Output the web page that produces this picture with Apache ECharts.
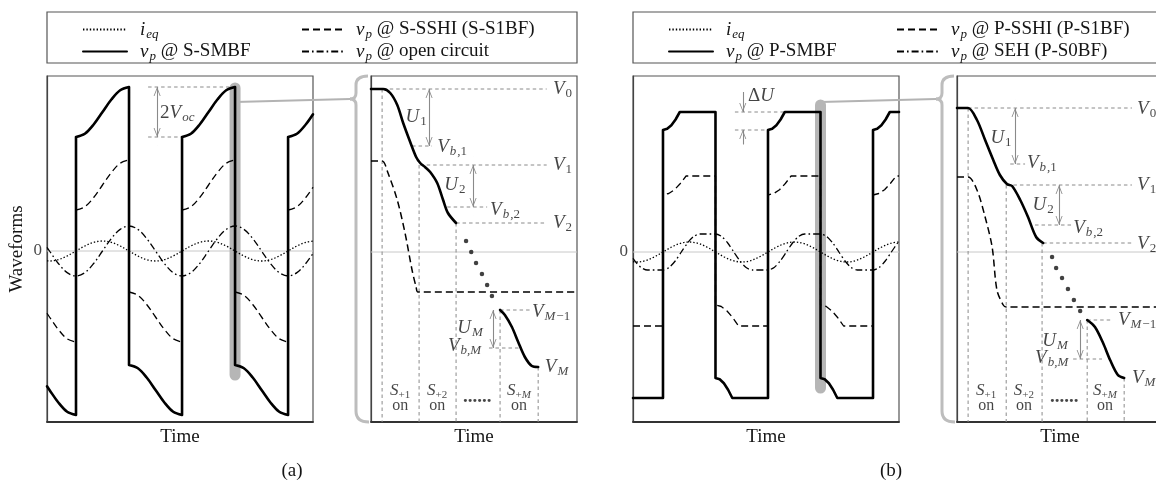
<!DOCTYPE html>
<html><head><meta charset="utf-8">
<script src="https://cdn.jsdelivr.net/npm/echarts@6/dist/echarts.min.js"></script>
<style>html,body{margin:0;padding:0;background:#fff}#c{width:1156px;height:482px}</style>
</head><body><div id="c"></div>
<script>
// ---------------- DATA ----------------
// Panel (a) main plot: time in half-periods of i_eq, voltage in units of V_oc
const axisMainA = [-0.547, 4.47, -6.84, 7.0];
const ieqA = [[-0.547,-0.396],[-0.5,-0.4],[-0.333,-0.346],[-0.167,-0.2],[0,0],[0.167,0.2],[0.333,0.346],[0.5,0.4],[0.667,0.346],[0.833,0.2],[1,0],[1.167,-0.2],[1.333,-0.346],[1.5,-0.4],[1.667,-0.346],[1.833,-0.2],[2,0],[2.167,0.2],[2.333,0.346],[2.5,0.4],[2.667,0.346],[2.833,0.2],[3,0],[3.167,-0.2],[3.333,-0.346],[3.5,-0.4],[3.667,-0.346],[3.833,-0.2],[4,0],[4.167,0.2],[4.333,0.346],[4.47,0.396]];
const ocA = [[-0.547,0.147],[-0.5,0],[-0.333,-0.5],[-0.167,-0.866],[0,-1],[0.167,-0.866],[0.333,-0.5],[0.5,0],[0.667,0.5],[0.833,0.866],[1,1],[1.167,0.866],[1.333,0.5],[1.5,0],[1.667,-0.5],[1.833,-0.866],[2,-1],[2.167,-0.866],[2.333,-0.5],[2.5,0],[2.667,0.5],[2.833,0.866],[3,1],[3.167,0.866],[3.333,0.5],[3.5,0],[3.667,-0.5],[3.833,-0.866],[4,-1],[4.167,-0.866],[4.333,-0.5],[4.47,-0.094]];
const sshiA = [
  [[-0.547,-2.49],[-0.5,-2.64],[-0.333,-3.14],[-0.167,-3.51],[0,-3.64]],
  [[0,-3.64],[0,1.64]],
  [[0,1.64],[0.167,1.77],[0.333,2.14],[0.5,2.64],[0.667,3.14],[0.833,3.51],[1,3.64]],
  [[1,3.64],[1,-1.64]],
  [[1,-1.64],[1.167,-1.77],[1.333,-2.14],[1.5,-2.64],[1.667,-3.14],[1.833,-3.51],[2,-3.64]],
  [[2,-3.64],[2,1.64]],
  [[2,1.64],[2.167,1.77],[2.333,2.14],[2.5,2.64],[2.667,3.14],[2.833,3.51],[3,3.64]],
  [[3,3.64],[3,-1.64]],
  [[3,-1.64],[3.167,-1.77],[3.333,-2.14],[3.5,-2.64],[3.667,-3.14],[3.833,-3.51],[4,-3.64]],
  [[4,-3.64],[4,1.64]],
  [[4,1.64],[4.167,1.77],[4.333,2.14],[4.47,2.55]]
];
const smbfA = [
  [[-0.547,-5.41],[-0.5,-5.56],[-0.333,-6.06],[-0.167,-6.43],[0,-6.56]],
  [[0,-6.56],[0,4.56]],
  [[0,4.56],[0.167,4.69],[0.333,5.06],[0.5,5.56],[0.667,6.06],[0.833,6.43],[1,6.56]],
  [[1,6.56],[1,-4.56]],
  [[1,-4.56],[1.167,-4.69],[1.333,-5.06],[1.5,-5.56],[1.667,-6.06],[1.833,-6.43],[2,-6.56]],
  [[2,-6.56],[2,4.56]],
  [[2,4.56],[2.167,4.69],[2.333,5.06],[2.5,5.56],[2.667,6.06],[2.833,6.43],[3,6.56]],
  [[3,6.56],[3,-4.56]],
  [[3,-4.56],[3.167,-4.69],[3.333,-5.06],[3.5,-5.56],[3.667,-6.06],[3.833,-6.43],[4,-6.56]],
  [[4,-6.56],[4,4.56]],
  [[4,4.56],[4.167,4.69],[4.333,5.06],[4.47,5.47]]
];
const barA = [[3,6.52],[3,-4.96]];
const vocGuidesA = [[[1.36,6.56],[2.96,6.56]],[[1.36,4.56],[2.0,4.56]]];
const vocArrowsA = [[1.53,6.56,4.56,'both']];
const labelsMainA = [[-0.547,0,'{r0|0}','right'],[1.585,5.52,'{r|2}{i|V}{s|oc}','left']];

// Panel (a) zoomed view (switching steps)
const axisZoom = [-0.3, 5.27, -17, 17.6];
const zoomSolidA = [
  [[-0.3,16.3],[0.03,16.3],[0.22,15.9],[0.41,14.7],[0.57,12.9],[0.76,11.0],[0.92,9.5],[1.03,8.9],[1.16,8.5],[1.3,8.0],[1.49,6.9],[1.65,5.2],[1.78,3.9],[2.0,2.9]],
  [[3.19,-5.8],[3.32,-6.3],[3.51,-7.5],[3.68,-9.0],[3.86,-10.5],[4.05,-11.4],[4.22,-11.5]]
];
const zoomDashA = [[-0.3,9.1],[0,9.1],[0.16,7.9],[0.41,5.2],[0.62,1.9],[0.81,-1.8],[0.92,-3.5],[0.97,-4.0],[5.27,-4.0]];
const zoomDotsA = [[2.27,1.1],[2.41,0],[2.54,-1.1],[2.7,-2.2],[2.84,-3.3],[2.97,-4.4]];
const zoomHGuidesA = [[[0.03,16.3],[4.45,16.3]],[[1.03,8.7],[4.45,8.7]],[[2.0,2.9],[4.45,2.9]],[[0.81,10.6],[1.35,10.6]],[[1.76,4.5],[2.84,4.5]],[[3.19,-5.8],[4.0,-5.8]],[[2.89,-9.6],[3.73,-9.6]]];
const zoomSwitchA = [0, 1.0, 2.0, 3.19, 4.22];
const zoomSwitchTopA = [16.3, 8.7, 2.9, -5.8, -11.5];
const zoomArrowsA = [[1.27,16.3,10.6,'both'],[2.46,8.7,4.5,'both'],[3.0,-5.8,-9.6,'both']];
const labelsZoomA = [
  [4.62,16.3,'{i|V}{sr|0}','left'],[4.62,8.7,'{i|V}{sr|1}','left'],[4.62,2.9,'{i|V}{sr|2}','left'],
  [1.49,10.5,'{i|V}{s|b}{sr|,1}','left'],[2.92,4.2,'{i|V}{s|b}{sr|,2}','left'],
  [0.92,13.5,'{i|U}{sr|1}','center'],[1.97,6.7,'{i|U}{sr|2}','center'],[2.38,-7.6,'{i|U}{s|M}','center'],
  [4.05,-6.0,'{i|V}{s|M}{sr|−1}','left'],[1.78,-9.4,'{i|V}{s|b,M}','left'],[4.4,-11.5,'{i|V}{s|M}','left'],
  [0.49,-13.9,'{si|S}{ss|+1}','center'],[0.49,-15.4,'{on|on}','center'],
  [1.49,-13.9,'{si|S}{ss|+2}','center'],[1.49,-15.4,'{on|on}','center'],
  [3.7,-13.9,'{si|S}{ss|+}{ssi|M}','center'],[3.7,-15.4,'{on|on}','center'],
  [2.57,-14.5,'{dots|......}','center']
];

// Panel (b) main plot
const axisMainB = [-0.571, 4.495, -6.8, 7.04];
const ieqB = [[-0.571,-0.39],[-0.5,-0.4],[-0.333,-0.346],[-0.167,-0.2],[0,0],[0.167,0.2],[0.333,0.346],[0.5,0.4],[0.667,0.346],[0.833,0.2],[1,0],[1.167,-0.2],[1.333,-0.346],[1.5,-0.4],[1.667,-0.346],[1.833,-0.2],[2,0],[2.167,0.2],[2.333,0.346],[2.5,0.4],[2.667,0.346],[2.833,0.2],[3,0],[3.167,-0.2],[3.333,-0.346],[3.5,-0.4],[3.667,-0.346],[3.833,-0.2],[4,0],[4.167,0.2],[4.333,0.346],[4.495,0.4]];
const sehB = [[-0.571,-0.25],[-0.5,-0.45],[-0.417,-0.62],[-0.3,-0.72],[0,-0.72],[0.117,-0.62],[0.233,-0.36],[0.35,0],[0.467,0.36],[0.583,0.62],[0.7,0.72],[1,0.72],[1.117,0.62],[1.233,0.36],[1.35,0],[1.467,-0.36],[1.583,-0.62],[1.7,-0.72],[2,-0.72],[2.117,-0.62],[2.233,-0.36],[2.35,0],[2.467,0.36],[2.583,0.62],[2.7,0.72],[3,0.72],[3.117,0.62],[3.233,0.36],[3.35,0],[3.467,-0.36],[3.583,-0.62],[3.7,-0.72],[4,-0.72],[4.117,-0.62],[4.233,-0.36],[4.35,0],[4.467,0.36],[4.495,0.43]];
const sshiB = [[-0.571,-2.96],[0,-2.96],[0,2.28],[0.11,2.34],[0.22,2.49],[0.33,2.74],[0.44,3.04],[1,3.04],[1,-2.12],[1.11,-2.18],[1.22,-2.36],[1.33,-2.63],[1.44,-2.96],[2,-2.96],[2,2.28],[2.11,2.34],[2.22,2.49],[2.33,2.74],[2.44,3.04],[3,3.04],[3,-2.12],[3.11,-2.18],[3.22,-2.36],[3.33,-2.63],[3.44,-2.96],[4,-2.96],[4,2.28],[4.11,2.34],[4.22,2.49],[4.33,2.74],[4.44,3.04],[4.495,3.04]];
const smbfB = [[-0.571,-5.84],[0,-5.84],[0,4.88],[0.08,4.93],[0.16,5.07],[0.24,5.30],[0.32,5.60],[1,5.60],[1,-5.04],[1.08,-5.09],[1.16,-5.25],[1.24,-5.51],[1.32,-5.84],[2,-5.84],[2,4.88],[2.08,4.93],[2.16,5.07],[2.24,5.30],[2.32,5.60],[3,5.60],[3,-5.04],[3.08,-5.09],[3.16,-5.25],[3.24,-5.51],[3.32,-5.84],[4,-5.84],[4,4.88],[4.08,4.93],[4.16,5.07],[4.24,5.30],[4.32,5.60],[4.495,5.60]];
const barB = [[3,5.88],[3,-5.44]];
const dUGuidesB = [[[1.37,5.6],[2.3,5.6]],[[1.37,4.88],[2.0,4.88]]];
const dUArrowsB = [[1.52,6.4,5.6,'one'],[1.52,4.3,4.88,'one']];
const labelsMainB = [[-0.571,0,'{r0|0}','right'],[1.62,6.24,'{r|Δ}{i|U}','left']];

// Panel (b) zoomed view
const zoomSolidB = [
  [[-0.3,14.4],[0,14.4],[0.24,13.2],[0.46,11.2],[0.68,9.2],[0.86,7.7],[1.05,6.8],[1.19,6.6],[1.41,5.2],[1.62,3.5],[1.84,1.5],[2.03,0.9]],
  [[3.22,-6.8],[3.43,-7.5],[3.65,-9.1],[3.84,-10.8],[4.05,-12.3],[4.22,-12.6]]
];
const zoomDashB = [[-0.3,7.5],[0,7.5],[0.24,6.2],[0.46,3.5],[0.65,0.5],[0.78,-3.8],[0.95,-5.3],[1.03,-5.5],[5.27,-5.5]];
const zoomDotsB = [[2.27,-0.5],[2.38,-1.6],[2.54,-2.6],[2.7,-3.7],[2.86,-4.8],[3.03,-5.9]];
const zoomHGuidesB = [[[0,14.4],[4.43,14.4]],[[1.05,6.7],[4.43,6.7]],[[2.03,0.9],[4.43,0.9]],[[1.14,8.8],[1.54,8.8]],[[1.81,2.7],[2.81,2.7]],[[3.22,-6.8],[3.92,-6.8]],[[2.84,-10.7],[3.62,-10.7]]];
const zoomSwitchB = [0, 1.03, 2.0, 3.22, 4.22];
const zoomSwitchTopB = [14.4, 6.7, 0.9, -6.8, -12.6];
const zoomArrowsB = [[1.27,14.4,8.8,'both'],[2.46,6.7,2.7,'both'],[3.03,-6.8,-10.7,'both']];
const labelsZoomB = [
  [4.57,14.3,'{i|V}{sr|0}','left'],[4.57,6.7,'{i|V}{sr|1}','left'],[4.57,0.8,'{i|V}{sr|2}','left'],
  [1.59,8.9,'{i|V}{s|b}{sr|,1}','left'],[2.84,2.4,'{i|V}{s|b}{sr|,2}','left'],
  [0.89,11.4,'{i|U}{sr|1}','center'],[2.03,4.7,'{i|U}{sr|2}','center'],[2.35,-8.9,'{i|U}{s|M}','center'],
  [4.05,-6.8,'{i|V}{s|M}{sr|−1}','left'],[1.81,-10.6,'{i|V}{s|b,M}','left'],[4.43,-12.6,'{i|V}{s|M}','left'],
  [0.49,-13.9,'{si|S}{ss|+1}','center'],[0.49,-15.4,'{on|on}','center'],
  [1.51,-13.9,'{si|S}{ss|+2}','center'],[1.51,-15.4,'{on|on}','center'],
  [3.7,-13.9,'{si|S}{ss|+}{ssi|M}','center'],[3.7,-15.4,'{on|on}','center'],
  [2.6,-14.5,'{dots|......}','center']
];

// Legend texts
const legendText = {
  ieq_a:'{li|i}{ls|eq}', smbf_a:'{li|v}{ls|p} @ S-SMBF', sshi_a:'{li|v}{ls|p} @ S-SSHI (S-S1BF)', oc_a:'{li|v}{ls|p} @ open circuit',
  ieq_b:'{li|i}{ls|eq}', smbf_b:'{li|v}{ls|p} @ P-SMBF', sshi_b:'{li|v}{ls|p} @ P-SSHI (P-S1BF)', seh_b:'{li|v}{ls|p} @ SEH (P-S0BF)'
};

// ---------------- BUILD ----------------
const SERIF = '"Liberation Serif","Times New Roman",Times,serif';
const INK = '#151515';
const GAP = ['-','-'];
function joinSegs(segs){ const out=[]; segs.forEach((s,i)=>{ if(i) out.push(GAP); s.forEach(p=>out.push(p)); }); return out; }
function vSegs(xs, tops, bottom){ return xs.map((x,i)=>[[x,tops[i]],[x,bottom]]); }

const SOLID = {color:'#000', width:2.6, cap:'round', join:'round'};
const DASH = {color:'#000', width:1.3, type:[7,4]};
const DOT = {color:'#000', width:1.3, type:[1.4,2]};
const DASHDOT = {color:'#000', width:1.3, type:[7,3,1.6,3]};
const GUIDE = {color:'#8a8a8a', width:1, type:[3.5,3]};
const ZERO = {color:'#c8c8c8', width:1};
const BAR = {color:'#b6b6b6', width:11, cap:'round'};
const ARROW = 'path://M5,0 L5.2,0 L5.1,0.2 Z M0,20 L5,10 L10,20 L8.8,20 L5,12.4 L1.2,20 Z';

const RICH = {
  i:{fontFamily:SERIF,fontStyle:'italic',fontSize:19,color:INK},
  r:{fontFamily:SERIF,fontSize:19,color:INK},
  r0:{fontFamily:SERIF,fontSize:17,color:INK},
  s:{fontFamily:SERIF,fontStyle:'italic',fontSize:13,color:INK,padding:[10,0,0,1]},
  sr:{fontFamily:SERIF,fontSize:13,color:INK,padding:[10,0,0,1]},
  si:{fontFamily:SERIF,fontStyle:'italic',fontSize:17,color:INK},
  ss:{fontFamily:SERIF,fontSize:11,color:INK,padding:[9,0,0,0]},
  ssi:{fontFamily:SERIF,fontStyle:'italic',fontSize:11,color:INK,padding:[9,0,0,0]},
  on:{fontFamily:SERIF,fontSize:16,color:INK},
  dots:{fontFamily:SERIF,fontSize:19,fontWeight:'bold',color:INK}
};

function ln(name, gi, data, style, extra){
  return Object.assign({type:'line', name:name||undefined, xAxisIndex:gi, yAxisIndex:gi, data:data,
    symbol:'none', showSymbol:false, silent:true, animation:false, lineStyle:style,
    itemStyle:{color:style.color}, emphasis:{disabled:true}, z:3}, extra||{});
}
function arrowsML(list){
  return {silent:true, animation:false, label:{show:false}, emphasis:{disabled:true},
    lineStyle:{color:'#8a8a8a', width:1.1, type:'solid'}, itemStyle:{color:'#8a8a8a'},
    data:list.map(a=>[
      {coord:[a[0],a[1]], symbol:a[3]==='one'?'none':ARROW, symbolSize:[7,18]},
      {coord:[a[0],a[2]], symbol:ARROW, symbolSize:[7,18]}])};
}
function labelSeries(gi, items){
  return {type:'scatter', xAxisIndex:gi, yAxisIndex:gi, symbolSize:1, silent:true, animation:false, z:6,
    itemStyle:{color:'rgba(0,0,0,0)'},
    label:{show:true, position:'inside', color:INK, fontFamily:SERIF, fontSize:19, rich:RICH},
    data:items.map(it=>({value:[it[0],it[1]], label:{formatter:it[2], align:it[3], verticalAlign:'middle', offset: it[3]==='right'?[-5,0]:[0,0]}}))};
}
function dotSeries(gi, data){
  return {type:'scatter', xAxisIndex:gi, yAxisIndex:gi, data:data, symbolSize:4.5, silent:true, animation:false, itemStyle:{color:'#111'}, z:4};
}

const grids = [
  {left:47, top:76, width:266, height:346},
  {left:371, top:76, width:206, height:346},
  {left:633, top:76, width:266, height:346},
  {left:957, top:76, width:206, height:346}
].map(g=>Object.assign({show:true, borderColor:'#555', borderWidth:1.2, backgroundColor:'transparent', containLabel:false, outerBoundsMode:'none'}, g));

const axesRanges = [axisMainA, axisZoom, axisMainB, axisZoom];
const nameStyle = {fontFamily:SERIF, fontSize:19, color:INK};
const xAxes = axesRanges.map((r,i)=>({type:'value', gridIndex:i, min:r[0], max:r[1],
  axisLine:{show:true, onZero:false, lineStyle:{color:'#333', width:1.8}}, axisTick:{show:false}, axisLabel:{show:false}, splitLine:{show:false},
  name:'Time', nameLocation:'middle', nameGap:6, nameTextStyle:nameStyle}));
const yAxes = axesRanges.map((r,i)=>({type:'value', gridIndex:i, min:r[2], max:r[3],
  axisLine:{show:true, onZero:false, lineStyle:{color:'#444', width:1.2}}, axisTick:{show:false}, axisLabel:{show:false}, splitLine:{show:false},
  name: i===0?'Waveforms':'', nameLocation:'middle', nameGap:20, nameTextStyle:nameStyle}));

const series = [
  // (a) main
  ln(null,0,[[axisMainA[0],0],[axisMainA[1],0]],ZERO,{z:1}),
  ln(null,0,barA,BAR,{z:2}),
  ln(null,0,joinSegs(vocGuidesA),GUIDE,{z:2, markLine:arrowsML(vocArrowsA)}),
  ln('ieq_a',0,ieqA,DOT,{smooth:0.35}),
  ln('oc_a',0,ocA,DASHDOT,{smooth:0.35}),
  ln('sshi_a',0,joinSegs(sshiA),DASH,{smooth:0.35}),
  ln('smbf_a',0,joinSegs(smbfA),SOLID,{smooth:0.35, z:4}),
  labelSeries(0,labelsMainA),
  // (a) zoom
  ln(null,1,[[axisZoom[0],0],[axisZoom[1],0]],ZERO,{z:1}),
  ln(null,1,joinSegs(zoomHGuidesA.concat(vSegs(zoomSwitchA,zoomSwitchTopA,axisZoom[2]))),GUIDE,{z:2, markLine:arrowsML(zoomArrowsA)}),
  ln(null,1,zoomDashA,Object.assign({},DASH,{width:1.5}),{smooth:0.3}),
  ln(null,1,joinSegs(zoomSolidA),SOLID,{smooth:0.3, z:4}),
  dotSeries(1,zoomDotsA),
  labelSeries(1,labelsZoomA),
  // (b) main
  ln(null,2,[[axisMainB[0],0],[axisMainB[1],0]],ZERO,{z:1}),
  ln(null,2,barB,BAR,{z:2}),
  ln(null,2,joinSegs(dUGuidesB),GUIDE,{z:2, markLine:arrowsML(dUArrowsB)}),
  ln('ieq_b',2,ieqB,DOT,{smooth:0.35}),
  ln('seh_b',2,sehB,DASHDOT,{smooth:0.25}),
  ln('sshi_b',2,sshiB,DASH),
  ln('smbf_b',2,smbfB,SOLID,{z:4}),
  labelSeries(2,labelsMainB),
  // (b) zoom
  ln(null,3,[[axisZoom[0],0],[axisZoom[1],0]],ZERO,{z:1}),
  ln(null,3,joinSegs(zoomHGuidesB.concat(vSegs(zoomSwitchB,zoomSwitchTopB,axisZoom[2]))),GUIDE,{z:2, markLine:arrowsML(zoomArrowsB)}),
  ln(null,3,zoomDashB,Object.assign({},DASH,{width:1.5}),{smooth:0.3}),
  ln(null,3,joinSegs(zoomSolidB),SOLID,{smooth:0.3, z:4}),
  dotSeries(3,zoomDotsB),
  labelSeries(3,labelsZoomB)
];

const legendCommon = {orient:'vertical', top:15, itemHeight:12, itemGap:1, selectedMode:false,
  itemStyle:{opacity:0},
  formatter:n=>legendText[n],
  textStyle:{fontFamily:SERIF, fontSize:19, color:INK, padding:[0,0,0,8],
    rich:{li:{fontFamily:SERIF,fontStyle:'italic',fontSize:19,color:INK}, ls:{fontFamily:SERIF,fontStyle:'italic',fontSize:13,color:INK,padding:[10,0,0,1]}}}};
const legends = [
  Object.assign({}, legendCommon, {data:['ieq_a','smbf_a'], left:77, itemWidth:44}),
  Object.assign({}, legendCommon, {data:['sshi_a','oc_a'], left:296, itemWidth:41}),
  Object.assign({}, legendCommon, {data:['ieq_b','smbf_b'], left:663, itemWidth:44}),
  Object.assign({}, legendCommon, {data:['sshi_b','seh_b'], left:891, itemWidth:41})
];

const chart = echarts.init(document.getElementById('c'), null, {renderer:'canvas'});
chart.setOption({animation:false, backgroundColor:'#fff', grid:grids, xAxis:xAxes, yAxis:yAxes, legend:legends, series:series});

// ---------- annotations positioned through the axes ----------
function px(gi, p){ return chart.convertToPixel({gridIndex:gi}, p); }
const BRACE = {stroke:'#bdbdbd', lineWidth:3, fill:null};
function brace(gi){
  const tl = px(gi,[axisZoom[0],axisZoom[3]]), bl = px(gi,[axisZoom[0],axisZoom[2]]);
  const L=tl[0], T=tl[1], B=bl[1], ty=T+23, X=L-15, tx=L-21;
  const q = (x1,y1,cx,cy,x2,y2)=>({type:'bezierCurve', silent:true, z:0, shape:{x1,y1,cpx1:cx,cpy1:cy,x2,y2}, style:Object.assign({},BRACE)});
  const l = (x1,y1,x2,y2)=>({type:'line', silent:true, z:0, shape:{x1,y1,x2,y2}, style:Object.assign({},BRACE)});
  return {tip:[tx,ty], parts:[
    q(L-3,T, X,T, X,T+9), l(X,T+9,X,ty-6), q(X,ty-6, X,ty, tx,ty),
    q(tx,ty, X,ty, X,ty+6), l(X,ty+6,X,B-11), q(X,B-11, X,B, L-2,B)]};
}
const bA = brace(1), bB = brace(3);
const cA = px(0,[barA[0][0],5.96]), cB = px(2,[barB[0][0],6.0]);
const legBoxA0 = px(0,[axisMainA[0],axisMainA[3]]), legBoxA1 = px(1,[axisZoom[1],axisZoom[3]]);
const legBoxB0 = px(2,[axisMainB[0],axisMainB[3]]), legBoxB1 = px(3,[axisZoom[1],axisZoom[3]]);
const graphics = [
  {type:'rect', silent:true, z:0, shape:{x:legBoxA0[0], y:12, width:legBoxA1[0]-legBoxA0[0], height:51}, style:{fill:null, stroke:'#555', lineWidth:1.2}},
  {type:'rect', silent:true, z:0, shape:{x:legBoxB0[0], y:12, width:legBoxB1[0]-legBoxB0[0], height:51}, style:{fill:null, stroke:'#555', lineWidth:1.2}},
  {type:'line', silent:true, z:0, shape:{x1:cA[0], y1:cA[1], x2:bA.tip[0], y2:bA.tip[1]}, style:{stroke:'#b3b3b3', lineWidth:2.2}},
  {type:'line', silent:true, z:0, shape:{x1:cB[0], y1:cB[1], x2:bB.tip[0], y2:bB.tip[1]}, style:{stroke:'#b3b3b3', lineWidth:2.2}},
  {type:'text', silent:true, x:(legBoxA0[0]+legBoxA1[0])/2 - 20, y:471, style:{text:'(a)', font:'19px '+SERIF, fill:INK, textAlign:'center', textVerticalAlign:'middle'}},
  {type:'text', silent:true, x:891, y:471, style:{text:'(b)', font:'19px '+SERIF, fill:INK, textAlign:'center', textVerticalAlign:'middle'}}
].concat(bA.parts, bB.parts);
chart.setOption({graphic:graphics});
</script></body></html>
